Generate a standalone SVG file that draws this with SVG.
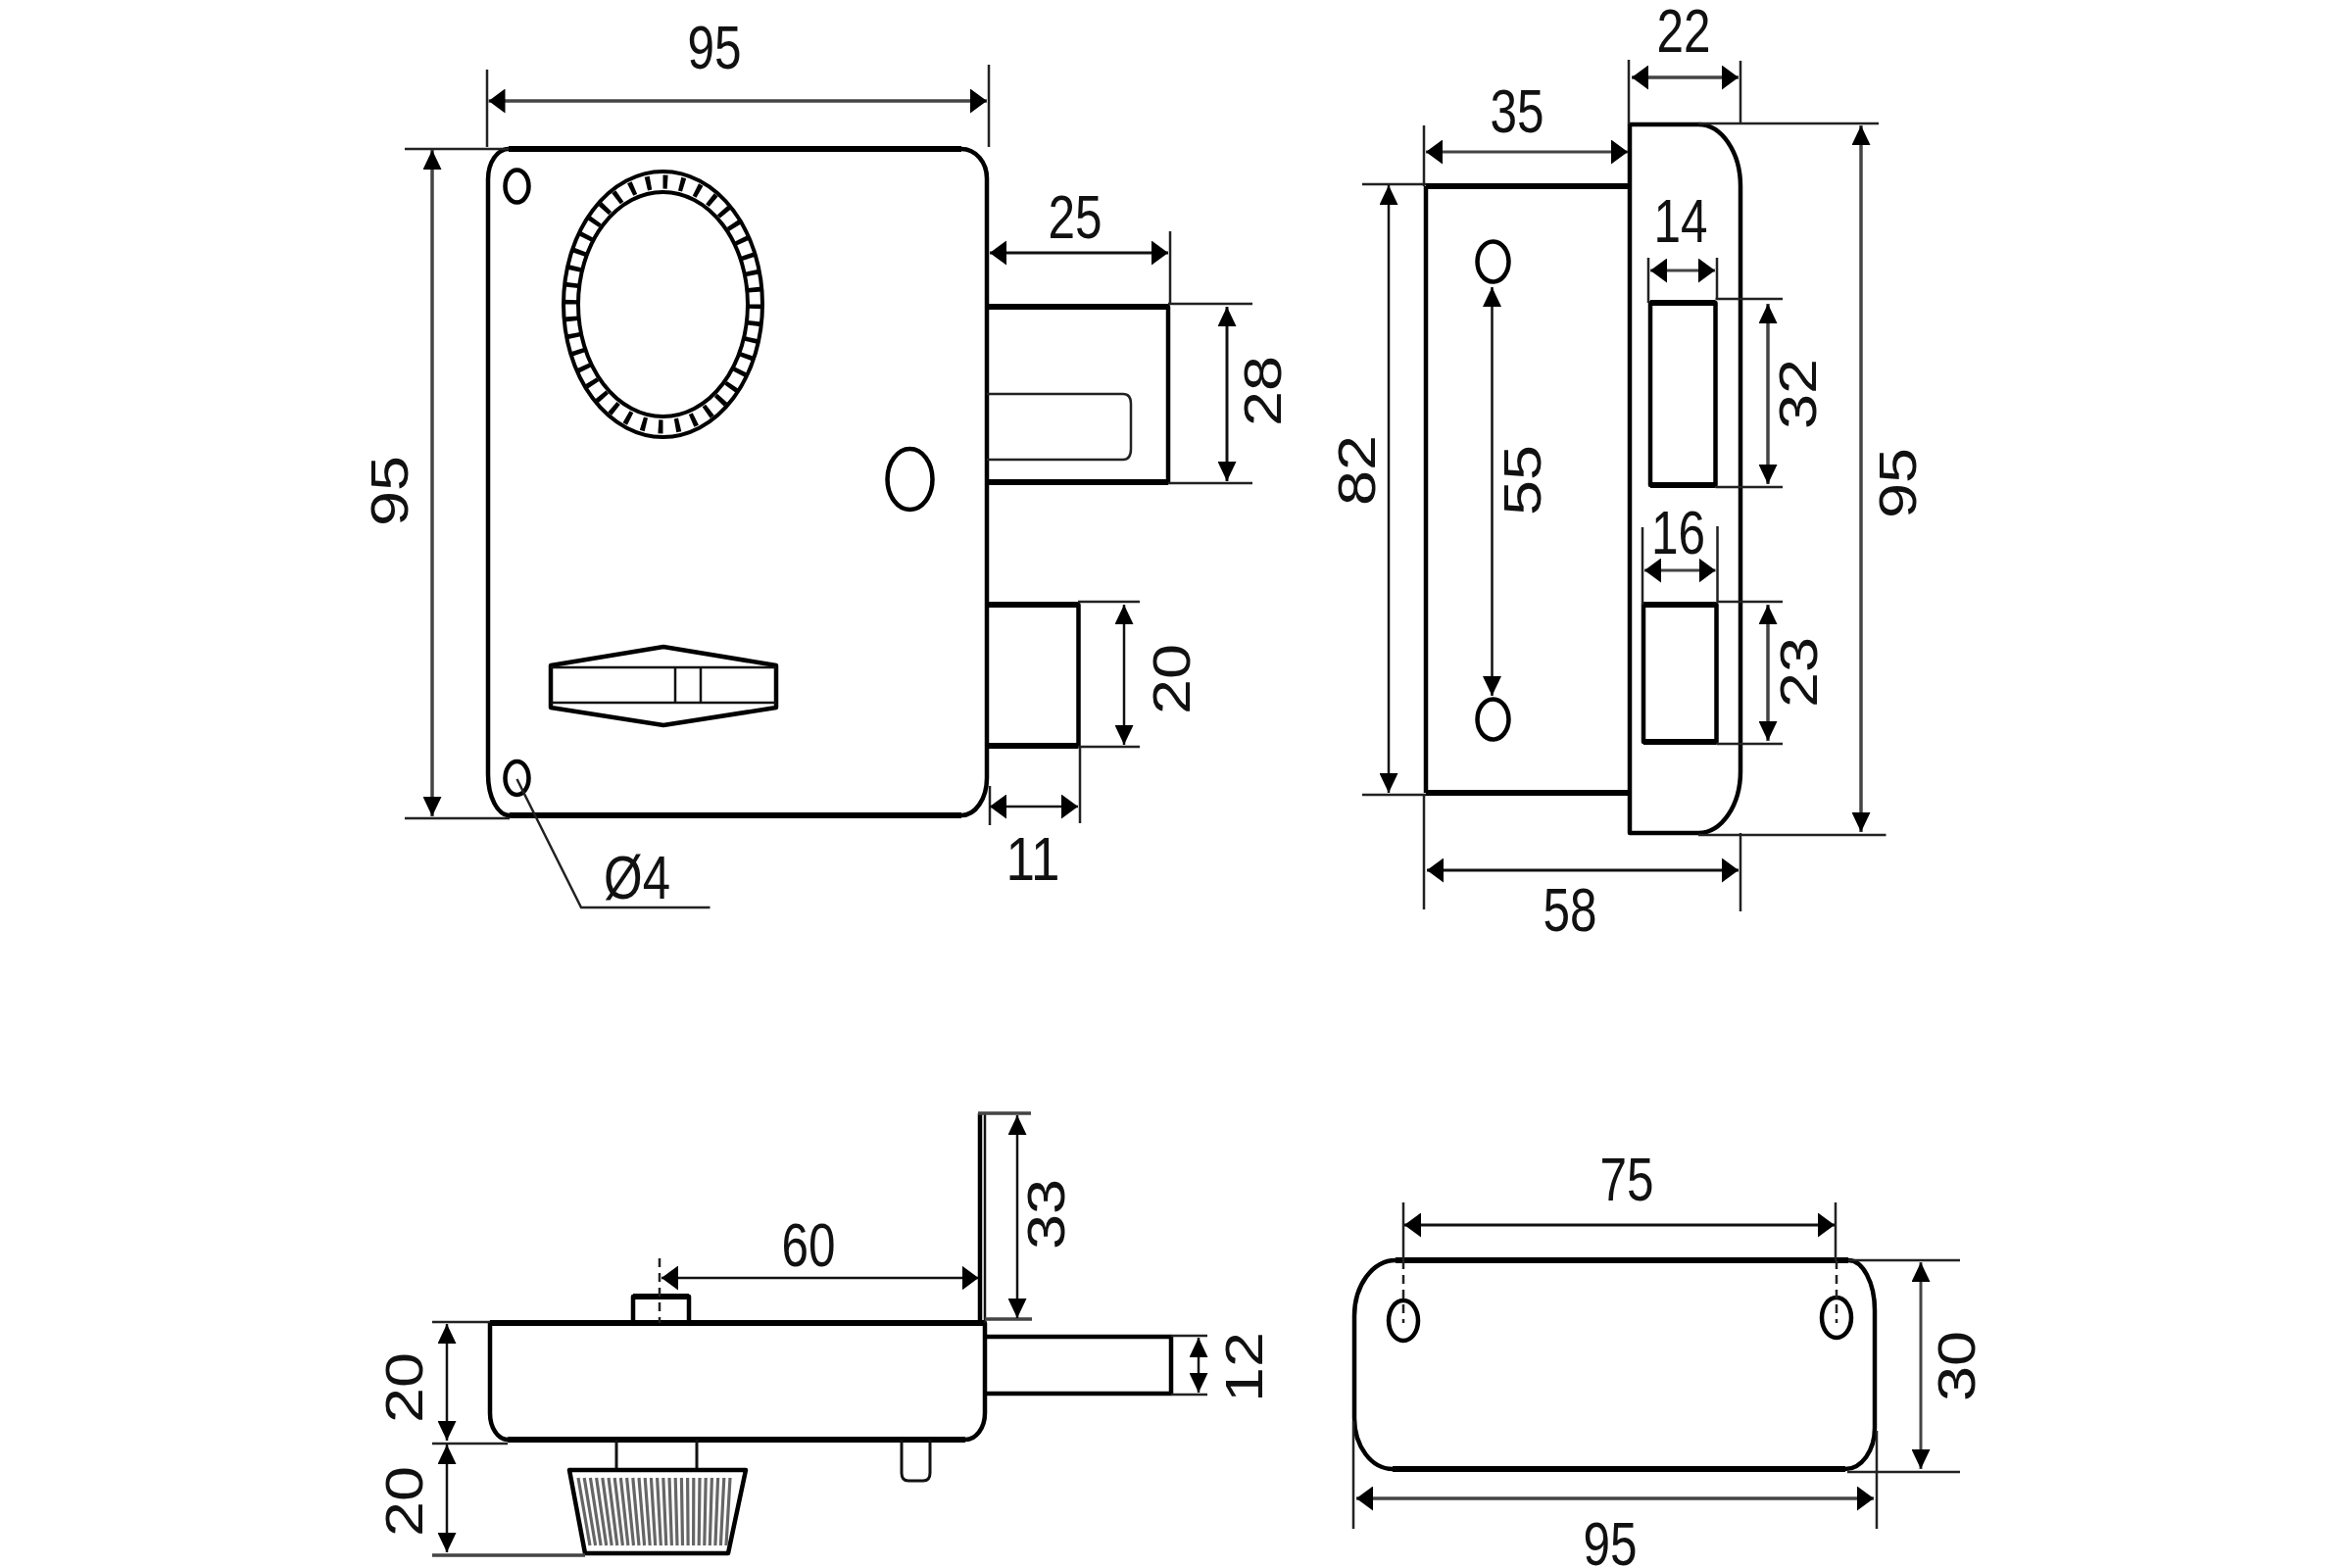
<svg xmlns="http://www.w3.org/2000/svg" width="2400" height="1600" viewBox="0 0 2400 1600">
<style>
.o{fill:none;stroke:#000;stroke-width:4.5;stroke-linejoin:round}
.t{fill:none;stroke:#000;stroke-width:6}
.n{fill:none;stroke:#111;stroke-width:2.5}
.e{fill:none;stroke:#222;stroke-width:2.5}
.d{fill:none;stroke:#111;stroke-width:2.5}
.g{fill:none;stroke:#444;stroke-width:3.5}
.h{marker-start:url(#ah);marker-end:url(#ah)}
.v{marker-start:url(#av);marker-end:url(#av)}
.c{fill:none;stroke:#222;stroke-width:2.5;stroke-dasharray:9 6}
text{font-family:"Liberation Sans",Arial,sans-serif;fill:#111;text-anchor:middle}
.l{font-size:63px}
.r{font-size:53px}
</style>
<defs>
<marker id="ah" markerUnits="userSpaceOnUse" viewBox="0 0 17 25" markerWidth="17" markerHeight="25" refX="17" refY="12.5" orient="auto-start-reverse"><path d="M0 0L17 12.5L0 25Z" fill="#000"/></marker>
<marker id="av" markerUnits="userSpaceOnUse" viewBox="0 0 20 19" markerWidth="20" markerHeight="19" refX="20" refY="9.5" orient="auto-start-reverse"><path d="M0 0L20 9.5L0 19Z" fill="#000"/></marker>
</defs>
<rect width="2400" height="1600" fill="#fff"/>

<g id="front-view">
<path class="o" d="M498 183A21 31 0 0 1 519 152H981A26 30 0 0 1 1007 182V794A26 38 0 0 1 981 832H520A22 42 0 0 1 498 790Z"/>
<path class="t" d="M519 152H981M520 832H981"/>
<ellipse cx="527.5" cy="190" rx="12" ry="16.5" class="o"/>
<ellipse cx="527.5" cy="794" rx="12" ry="17" class="o"/>
<ellipse cx="676.5" cy="310.5" rx="94.5" ry="125" fill="none" stroke="#000" stroke-width="14" pathLength="40" stroke-dasharray=".27 .73"/>
<ellipse cx="676.5" cy="310.5" rx="101.5" ry="135.5" fill="none" stroke="#000" stroke-width="4"/>
<ellipse cx="676.5" cy="310.5" rx="86.5" ry="114.500" fill="none" stroke="#000" stroke-width="4"/>
<ellipse cx="928.5" cy="489" rx="23" ry="31" class="o"/>
<path class="o" d="M1007 313H1192V492H1007"/>
<path class="t" d="M1007 313H1192M1007 492H1192"/>
<path class="e" d="M1007 402H1146Q1154 402 1154 412V458Q1154 469 1146 469H1007"/>
<path class="o" d="M1007 617H1100.500V761H1007"/>
<path class="t" d="M1007 617H1100M1007 761H1100"/>
<path class="o" d="M562 679L677 660L792 679V722L677 740L562 722Z"/>
<path class="n" d="M562 681H792M562 717H792M689 681V717M715 681V717"/>
</g>

<g id="side-view">
<path class="o" d="M1455 190H1664M1455 809H1664M1455 190V809"/>
<path class="t" d="M1455 190H1664M1455 809H1664"/>
<path class="o" d="M1663 127H1733A43 63 0 0 1 1776 190V787A43 63 0 0 1 1733 850H1663Z"/>
<ellipse cx="1523.500" cy="267" rx="16" ry="20.500" class="o"/>
<ellipse cx="1523.500" cy="734" rx="16" ry="20.500" class="o"/>
<rect x="1684" y="309" width="66.500" height="186" class="o"/>
<path class="t" d="M1684 309H1750.500M1684 495H1750.500"/>
<rect x="1677" y="617" width="74.500" height="140" class="o"/>
<path class="t" d="M1677 617H1751.500M1677 757H1751.500"/>
</g>

<g id="top-view">
<path class="o" d="M500 1350H1005V1442A20 27 0 0 1 985 1469H518A18 27 0 0 1 500 1442Z"/>
<path class="t" d="M500 1350H1005M518 1469H985"/>
<path class="o" d="M1000 1350V1136"/>
<path class="n" d="M1005 1350V1136"/>
<path class="o" d="M646 1350V1323H703V1350"/>
<path class="t" d="M646 1323H703"/>
<path class="c" d="M673 1284V1350" stroke-dasharray="14 5 3 5"/>
<path class="o" d="M1005 1364H1195V1422H1005"/>
<path class="n" d="M920 1469V1503Q920 1511 927 1511H942Q949 1511 949 1503V1469" style="stroke-width:3"/>
<path class="n" d="M629 1469V1499M711 1469V1499" style="stroke-width:3"/>
<path class="o" d="M581 1500H761L743 1585H597Z"/>
<path d="M590 1508L602 1577M596.200 1508L607.600 1577M602.400 1508L613.100 1577M608.600 1508L618.700 1577M614.800 1508L624.200 1577M621 1508L629.800 1577M627.200 1508L635.400 1577M633.400 1508L640.900 1577M639.600 1508L646.500 1577M645.800 1508L652 1577M652 1508L657.600 1577M658.200 1508L663.200 1577M664.400 1508L668.700 1577M670.600 1508L674.300 1577M676.800 1508L679.800 1577M683 1508L685.400 1577M689.200 1508L691 1577M695.400 1508L696.500 1577M701.600 1508L702.100 1577M707.800 1508L707.600 1577M714 1508L713.200 1577M720.200 1508L718.800 1577M726.400 1508L724.300 1577M732.600 1508L729.900 1577M738.800 1508L735.400 1577M745 1508L741 1577" fill="none" stroke="#666" stroke-width="3.200"/>
</g>

<g id="back-plate">
<path class="o" d="M1424 1286H1886A27 51 0 0 1 1913 1337V1457A30 42 0 0 1 1883 1499H1421A39 52 0 0 1 1382 1447V1343A42 57 0 0 1 1424 1286Z"/>
<path class="t" d="M1424 1286H1886M1421 1499H1883"/>
<ellipse cx="1432" cy="1347.500" rx="15" ry="20.500" class="o"/>
<ellipse cx="1874" cy="1344.500" rx="15" ry="20.500" class="o"/>
<path class="c" d="M1432 1286V1350M1874 1286V1350"/>
</g>

<g id="connectors">
<path class="e" d="M497 71V150M1009 66V150M413 152H519M413 835H520M1194 236V310M1192 310H1278M1192 493H1278M1100 614H1163M1100 762H1163M1102 762V840M1010 802V842"/>
<path class="g h" d="M498.500 103H1007"/>
<path class="g v" d="M441 153V833"/>
<path class="d h" d="M1010 258H1192" style="stroke-width:3"/>
<path class="d v" d="M1252 313V491" style="stroke-width:3"/>
<path class="d v" d="M1147 617V760"/>
<path class="d h" d="M1010 823H1100"/>
<path class="e" d="M527.500 795L593 926H724.500"/>

<path class="e" d="M1733 126H1917M1733 852H1924.500M1390 188H1455M1390 811H1455M1453 128V190M1453 810V928M1662 61V127M1776 62V127M1776 850V930M1750.500 305H1819M1750.500 497H1819M1682 263V309M1752 263V305M1751.500 614H1819M1751.500 759H1819M1676 538V617M1752.500 537V614"/>
<path class="g v" d="M1899 128V849"/>
<path class="d v" d="M1417 189V809"/>
<path class="g h" d="M1455 155H1661" style="stroke-width:3"/>
<path class="g h" d="M1665 79H1774"/>
<path class="d h" d="M1456 888H1774" style="stroke-width:3"/>
<path class="d v" d="M1522.500 293V710"/>
<path class="g h" d="M1684 276H1750" style="stroke-width:3"/>
<path class="g v" d="M1804 310V494"/>
<path class="g h" d="M1678 582H1750.500" style="stroke-width:3"/>
<path class="g v" d="M1804 617V756"/>

<path class="e" d="M441 1349H500M441 1473H518M1195 1363H1232M1195 1423H1232"/>
<path class="g" d="M441 1587H597M998 1136H1052M1005 1346H1053"/>
<path class="d v" d="M456 1351V1470"/>
<path class="d v" d="M456 1474V1584"/>
<path class="d v" d="M1038 1138V1345"/>
<path class="d h" d="M675 1304H998.500"/>
<path class="d v" d="M1223 1365V1421"/>

<path class="e" d="M1886 1286H2000M1885 1502H2000M1432 1227V1286M1873 1227V1286M1381 1450V1560M1915 1460V1560"/>
<path class="g v" d="M1960 1288V1499" style="stroke-width:3"/>
<path class="d h" d="M1433 1250H1872" style="stroke-width:3"/>
<path class="g h" d="M1384 1529H1912"/>
</g>

<g id="labels">
<text class="l" x="729" y="70" textLength="55" lengthAdjust="spacingAndGlyphs">95</text>
<text class="l" x="1097" y="243" textLength="55" lengthAdjust="spacingAndGlyphs">25</text>
<text class="l" x="1054" y="898" textLength="55" lengthAdjust="spacingAndGlyphs">11</text>
<text class="l" x="650" y="917" textLength="68" lengthAdjust="spacingAndGlyphs">Ø4</text>
<text class="l" x="1718" y="53" textLength="55" lengthAdjust="spacingAndGlyphs">22</text>
<text class="l" x="1548" y="135" textLength="55" lengthAdjust="spacingAndGlyphs">35</text>
<text class="l" x="1715" y="247" textLength="55" lengthAdjust="spacingAndGlyphs">14</text>
<text class="l" x="1712.500" y="565" textLength="55" lengthAdjust="spacingAndGlyphs">16</text>
<text class="l" x="1602" y="950" textLength="55" lengthAdjust="spacingAndGlyphs">58</text>
<text class="l" x="825" y="1292" textLength="55" lengthAdjust="spacingAndGlyphs">60</text>
<text class="l" x="1660" y="1225" textLength="55" lengthAdjust="spacingAndGlyphs">75</text>
<text class="l" x="1643" y="1597" textLength="55" lengthAdjust="spacingAndGlyphs">95</text>
<text class="r" transform="translate(397 501) rotate(-90)" y="19" textLength="72" lengthAdjust="spacingAndGlyphs">95</text>
<text class="r" transform="translate(1288 399) rotate(-90)" y="19" textLength="72" lengthAdjust="spacingAndGlyphs">28</text>
<text class="r" transform="translate(1195 693) rotate(-90)" y="19" textLength="72" lengthAdjust="spacingAndGlyphs">20</text>
<text class="r" transform="translate(1384 480) rotate(-90)" y="19" textLength="72" lengthAdjust="spacingAndGlyphs">82</text>
<text class="r" transform="translate(1553 490) rotate(-90)" y="19" textLength="72" lengthAdjust="spacingAndGlyphs">55</text>
<text class="r" transform="translate(1834 402) rotate(-90)" y="19" textLength="72" lengthAdjust="spacingAndGlyphs">32</text>
<text class="r" transform="translate(1936 493) rotate(-90)" y="19" textLength="72" lengthAdjust="spacingAndGlyphs">95</text>
<text class="r" transform="translate(1835 686) rotate(-90)" y="19" textLength="72" lengthAdjust="spacingAndGlyphs">23</text>
<text class="r" transform="translate(412 1416) rotate(-90)" y="19" textLength="72" lengthAdjust="spacingAndGlyphs">20</text>
<text class="r" transform="translate(412 1532) rotate(-90)" y="19" textLength="72" lengthAdjust="spacingAndGlyphs">20</text>
<text class="r" transform="translate(1067 1239) rotate(-90)" y="19" textLength="72" lengthAdjust="spacingAndGlyphs">33</text>
<text class="r" transform="translate(1269 1395) rotate(-90)" y="19" textLength="72" lengthAdjust="spacingAndGlyphs">12</text>
<text class="r" transform="translate(1996 1394) rotate(-90)" y="19" textLength="72" lengthAdjust="spacingAndGlyphs">30</text>
</g>
</svg>
